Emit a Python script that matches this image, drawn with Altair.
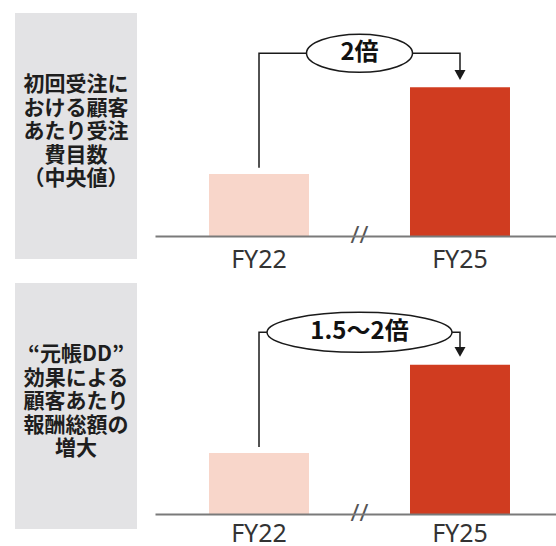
import altair as alt
import pandas as pd

# ---- data -------------------------------------------------------------
categories = ["FY22", "FY25"]
row_labels = [
    "初回受注に\nおける顧客\nあたり受注\n費目数\n（中央値）",
    "“元帳DD”\n効果による\n顧客あたり\n報酬総額の\n増大",
]
# schematic index values (FY22 = 100)
fy_values = [[100, 240], [100, 245]]
y_max = [360, 379]
multiplier_labels = ["2倍", "1.5～2倍"]
bracket_start = [110, 110]
bracket_level = [295, 298]
arrow_level = [260, 266]

# ---- style ------------------------------------------------------------
bar_colors = ["#f8d6ca", "#d03c20"]
BOX_GREY = "#e3e3e5"
JP = "Noto Sans CJK JP"
BOX_W, BOX_H = 122, 246
PANEL_W = 401
panel_h = [223, 231]
label_pad = [11, 7]
ellipse_w = [106, 185]
ellipse_h = [38, 40]
MID = 100.5  # half a band step: midpoint between the two bars


def ellipse_path(w, h):
    r = h / w
    return f"M-1,0A1,{r:.4f},0,1,1,1,0A1,{r:.4f},0,1,1,-1,0Z"


def box_panel(i):
    df = pd.DataFrame({"label": [row_labels[i]]})
    base = alt.Chart(df)
    rect = base.mark_rect(color=BOX_GREY).encode(
        x=alt.value(0), x2=alt.value(BOX_W), y=alt.value(0), y2=alt.value(BOX_H)
    )
    txt = base.mark_text(
        font=JP, fontSize=21, fontWeight="bold", lineHeight=23.5, lineBreak="\n",
        align="center", baseline="middle", color="#1e1e1e",
    ).encode(x=alt.value(BOX_W / 2), y=alt.value(72), text="label:N")
    return alt.layer(rect, txt).properties(width=BOX_W, height=BOX_H)


def bar_panel(i):
    x = alt.X(
        "year:N",
        scale=alt.Scale(domain=categories, paddingInner=0.5025, paddingOuter=0.2488, align=0.54),
        axis=alt.Axis(
            title=None, labelAngle=0, ticks=False, labelPadding=label_pad[i],
            labelFont="Noto Sans", labelFontSize=25, labelColor="#333333",
            domainColor="#7a7a7a", domainWidth=2, grid=False, zindex=1,
        ),
    )
    y = alt.Y("value:Q", scale=alt.Scale(domain=[0, y_max[i]], nice=False), axis=None)

    bars_df = pd.DataFrame({"year": categories, "value": fy_values[i]})
    bars = alt.Chart(bars_df).mark_bar().encode(
        x=x, y=y,
        color=alt.Color("year:N", scale=alt.Scale(domain=categories, range=bar_colors), legend=None),
    )

    path_df = pd.DataFrame({
        "year": [categories[0], categories[0], categories[1], categories[1]],
        "value": [bracket_start[i], bracket_level[i], bracket_level[i], arrow_level[i]],
        "ord": [0, 1, 2, 3],
    })
    line = alt.Chart(path_df).mark_line(color="#1a1a1a", strokeWidth=1.5).encode(
        x=x, y=y, order="ord:Q"
    )

    mid_df = pd.DataFrame({"year": [categories[0]], "value": [bracket_level[i]],
                           "label": [multiplier_labels[i]]})
    ell = alt.Chart(mid_df).mark_point(
        shape=ellipse_path(ellipse_w[i], ellipse_h[i]), size=ellipse_w[i] ** 2,
        filled=True, fill="white", stroke="#1a1a1a", strokeWidth=1.5, opacity=1,
        xOffset=MID,
    ).encode(x=x, y=y)
    lab = alt.Chart(mid_df).mark_text(
        font=JP, fontSize=24, fontWeight="bold", color="#111111",
        align="center", baseline="middle", xOffset=MID,
    ).encode(x=x, y=y, text="label:N")

    arrow_df = pd.DataFrame({"year": [categories[1]], "value": [arrow_level[i]]})
    arrow = alt.Chart(arrow_df).mark_point(
        shape="M-1,-0.9L1,-0.9L0,0.9Z", size=121, filled=True,
        color="#1a1a1a", opacity=1,
    ).encode(x=x, y=y)

    brk_df = pd.DataFrame({"year": [categories[0]], "value": [0]})
    brk = alt.Chart(brk_df).mark_text(
        text="//", font="Noto Sans", fontSize=24, color="#555555",
        align="center", baseline="middle", xOffset=MID,
    ).encode(x=x, y=y)

    return alt.layer(bars, line, ell, lab, arrow, brk).properties(
        width=PANEL_W, height=panel_h[i]
    )


chart = alt.concat(
    box_panel(0), bar_panel(0), box_panel(1), bar_panel(1),
    columns=2,
    spacing={"row": 24, "column": 18},
    bounds="flush",
    padding={"left": 15, "top": 13, "right": 0, "bottom": 0},
).configure_view(stroke=None).properties(background="white")

chart.save("out.html", embed_options={"renderer": "svg", "actions": False})
